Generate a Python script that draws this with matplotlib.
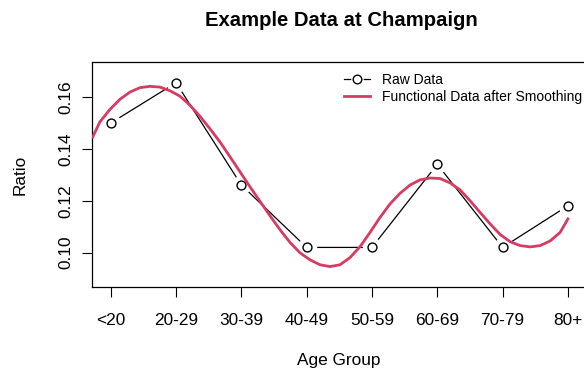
import numpy as np
import matplotlib.pyplot as plt
from matplotlib.lines import Line2D
from matplotlib.legend_handler import HandlerTuple

plt.rcParams['font.family'] = ['Liberation Sans', 'DejaVu Sans']

# raw ratios per age group
age_groups = ['<20', '20-29', '30-39', '40-49', '50-59', '60-69', '70-79', '80+']
raw_ratio = [0.1500, 0.1656, 0.1261, 0.1020, 0.1020, 0.1341, 0.1020, 0.1181]

# smoothed functional curve, sampled along the age axis
smooth_x = [0.724, 0.836, 0.989, 1.142, 1.296, 1.449, 1.602, 1.755, 1.908,
            2.061, 2.214, 2.368, 2.521, 2.674, 2.827, 2.980, 3.133, 3.286,
            3.440, 3.593, 3.746, 3.899, 4.052, 4.205, 4.358, 4.511, 4.665,
            4.818, 4.971, 5.124, 5.277, 5.430, 5.583, 5.737, 5.890, 6.043,
            6.197, 6.350, 6.503, 6.656, 6.809, 6.962, 7.116, 7.269, 7.422,
            7.575, 7.728, 7.881, 8.000]
smooth_y = [0.1446, 0.1505, 0.1553, 0.1592, 0.1620, 0.1637, 0.1642, 0.1639,
            0.1625, 0.1604, 0.1569, 0.1526, 0.1478, 0.1427, 0.1370, 0.1312,
            0.1254, 0.1198, 0.1142, 0.1088, 0.1039, 0.0999, 0.0972, 0.0953,
            0.0946, 0.0953, 0.0981, 0.1023, 0.1078, 0.1136, 0.1188, 0.1229,
            0.1261, 0.1281, 0.1288, 0.1286, 0.1269, 0.1242, 0.1200, 0.1155,
            0.1111, 0.1070, 0.1042, 0.1027, 0.1022, 0.1027, 0.1045, 0.1078,
            0.1130]

red = '#D83B62'
W, H = 584, 371

fig = plt.figure(figsize=(W / 100, H / 100), dpi=100)
ax = fig.add_axes([92 / W, 83.7 / H, 494.6 / W, 225.3 / H])

x = np.arange(1, len(age_groups) + 1)

# type="b" look: line, white gap round each point, open circle on top
ax.plot(x, raw_ratio, color='black', lw=0.9, zorder=2)
ax.plot(x, raw_ratio, 'o', ms=14, mfc='white', mec='none', zorder=2.5)
ax.plot(x, raw_ratio, 'o', ms=6.4, mfc='white', mec='black', mew=1.0, zorder=3)
ax.plot(smooth_x, smooth_y, color=red, lw=2.0, zorder=4,
        solid_joinstyle='round')

ax.set_xlim(0.714, 8.286)
ax.set_ylim(0.0866, 0.1736)
ax.set_xticks(x)
ax.set_xticklabels(age_groups)
ax.set_yticks([0.10, 0.12, 0.14, 0.16])
ax.set_yticklabels(['0.10', '0.12', '0.14', '0.16'], rotation=90, va='center')
ax.tick_params(length=7.2, width=0.8, labelsize=12.4)
ax.tick_params(axis='x', pad=11)
ax.tick_params(axis='y', pad=6.5)
for s in ax.spines.values():
    s.set_linewidth(0.9)

fig.text(341 / W, 1 - 21 / H, 'Example Data at Champaign', ha='center',
         va='center', fontsize=14.6, fontweight='bold')
fig.text(339 / W, 1 - 360 / H, 'Age Group', ha='center', va='center',
         fontsize=12.4)
fig.text(20 / W, 1 - 175 / H, 'Ratio', ha='center', va='center',
         rotation=90, fontsize=12.4)

raw_handle = (Line2D([], [], color='black', lw=0.9),
              Line2D([], [], marker='o', ls='none', ms=9, mfc='white', mec='none'),
              Line2D([], [], marker='o', ls='none', ms=6.2, mfc='white',
                     mec='black', mew=1.0))
smooth_handle = Line2D([], [], color=red, lw=2.0)
ax.legend([raw_handle, smooth_handle],
          ['Raw Data', 'Functional Data after Smoothing'],
          handler_map={tuple: HandlerTuple(ndivide=1, pad=0)},
          loc='upper left', bbox_to_anchor=(344 / W, 1 - 73 / H),
          bbox_transform=fig.transFigure, frameon=False, fontsize=10,
          borderpad=0, borderaxespad=0, handlelength=1.85,
          handletextpad=0.85, labelspacing=0.2)

fig.savefig('out.png', dpi=100)
